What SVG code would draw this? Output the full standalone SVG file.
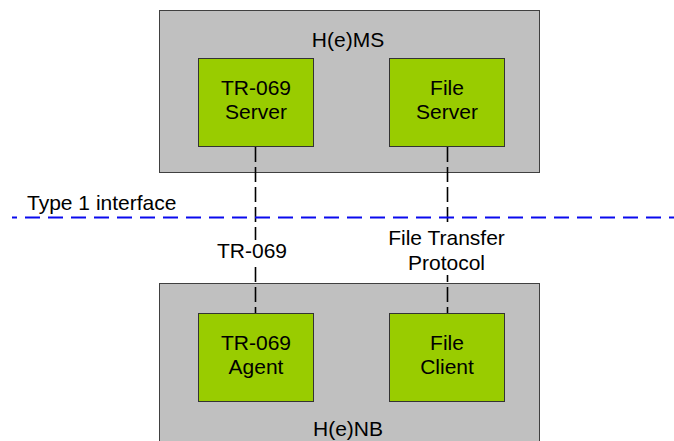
<svg xmlns="http://www.w3.org/2000/svg" width="674" height="441" viewBox="0 0 674 441">
<style>
.outer{fill:#c0c0c0;stroke:#404040;stroke-width:1}
.inner{fill:#99cc00;stroke:#333333;stroke-width:1}
.t{font-family:"Liberation Sans",Arial,sans-serif;fill:#000;font-size:21px}
.c{text-anchor:middle}
.conn{stroke:#000;stroke-width:1.6;stroke-dasharray:15,5;fill:none}
</style>
<rect width="674" height="441" fill="#fff"/>
<g id="hems">
<rect class="outer" x="159.5" y="10.5" width="380" height="162"/>
<text class="t c" x="348" y="47" font-size="20.5">H(e)MS</text>
</g>
<g id="tr069server">
<rect class="inner" x="198.5" y="58.5" width="115" height="88"/>
<text class="t c" x="256" y="95">TR-069</text>
<text class="t c" x="256" y="119">Server</text>
</g>
<g id="fileserver">
<rect class="inner" x="389.5" y="58.5" width="115" height="88"/>
<text class="t c" x="447" y="95">File</text>
<text class="t c" x="447" y="119">Server</text>
</g>
<g id="henb">
<rect class="outer" x="159.5" y="283.5" width="380" height="170"/>
<text class="t c" x="348" y="436" font-size="20.5">H(e)NB</text>
</g>
<g id="tr069agent">
<rect class="inner" x="198.5" y="313.5" width="115" height="88"/>
<text class="t c" x="256" y="350">TR-069</text>
<text class="t c" x="256" y="374">Agent</text>
</g>
<g id="fileclient">
<rect class="inner" x="389.5" y="313.5" width="115" height="88"/>
<text class="t c" x="447" y="350">File</text>
<text class="t c" x="447" y="374">Client</text>
</g>
<g id="connectors">
<line class="conn" x1="255.5" y1="147" x2="255.5" y2="313"/>
<line class="conn" x1="447.5" y1="147" x2="447.5" y2="313"/>
<line x1="12" y1="217.5" x2="674" y2="217.5" stroke="#0a0aee" stroke-width="2" stroke-dasharray="15,8" stroke-dashoffset="10"/>
</g>
<g id="labels">
<text class="t" x="27" y="210">Type 1 interface</text>
<rect x="216" y="240" width="73" height="22" fill="#fff"/>
<text class="t c" x="252" y="258">TR-069</text>
<rect x="385" y="227" width="124" height="48" fill="#fff"/>
<text class="t c" x="446.5" y="245">File Transfer</text>
<text class="t c" x="446.5" y="270">Protocol</text>
</g>
</svg>
